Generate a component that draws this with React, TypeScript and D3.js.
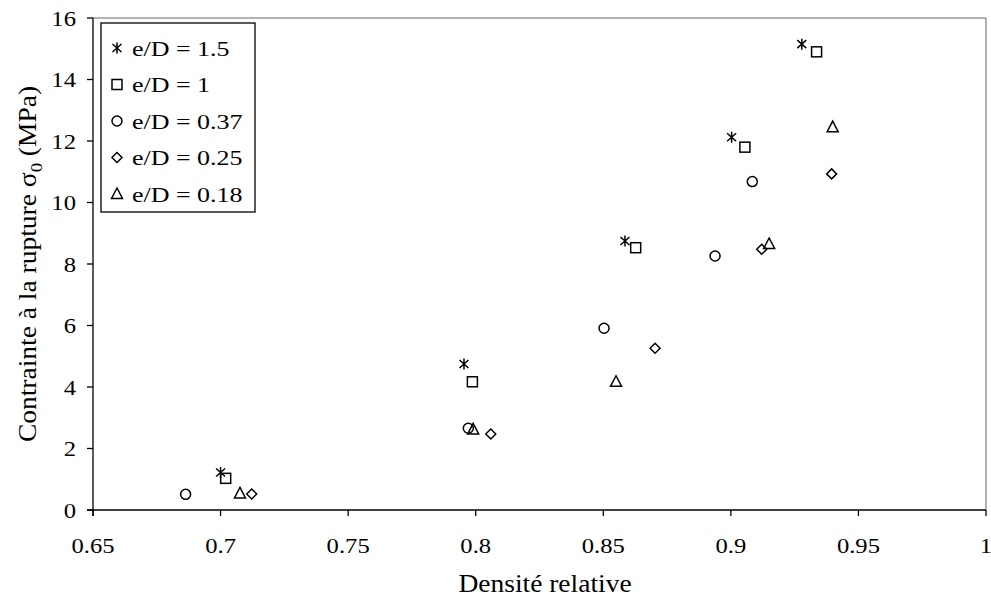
import React from "react";
import * as d3 from "d3";

const seriesNames = ["e/D = 1.5", "e/D = 1", "e/D = 0.37", "e/D = 0.25", "e/D = 0.18"];
const shapes = ["asterisk", "square", "circle", "diamond", "triangle"];

const s15x = [0.700, 0.7954, 0.8585, 0.9003, 0.9278];
const s15y = [1.22, 4.75, 8.75, 12.12, 15.15];
const s1x = [0.702, 0.7987, 0.8627, 0.9055, 0.9336];
const s1y = [1.03, 4.17, 8.53, 11.8, 14.9];
const s037x = [0.6863, 0.7971, 0.8503, 0.8938, 0.9084];
const s037y = [0.51, 2.66, 5.91, 8.26, 10.68];
const s025x = [0.7122, 0.8059, 0.8703, 0.9121, 0.9395];
const s025y = [0.52, 2.47, 5.26, 8.48, 10.93];
const s018x = [0.7076, 0.799, 0.855, 0.915, 0.9399];
const s018y = [0.54, 2.62, 4.17, 8.65, 12.45];

const xTicks = [0.65, 0.7, 0.75, 0.8, 0.85, 0.9, 0.95, 1];
const yTicks = [0, 2, 4, 6, 8, 10, 12, 14, 16];

const allX = [s15x, s1x, s037x, s025x, s018x];
const allY = [s15y, s1y, s037y, s025y, s018y];

const FONT = "Liberation Serif";

function Marker({ shape, x, y }: { shape: string; x: number; y: number }) {
  const st = { fill: "none", stroke: "#000", strokeWidth: 1.5 };
  if (shape === "square") return <rect x={x - 5} y={y - 5} width={10} height={10} {...st} />;
  if (shape === "circle") return <circle cx={x} cy={y} r={5} {...st} />;
  if (shape === "diamond")
    return <path d={`M${x},${y - 5}L${x + 5},${y}L${x},${y + 5}L${x - 5},${y}Z`} {...st} />;
  if (shape === "triangle")
    return <path d={`M${x},${y - 6}L${x + 5.5},${y + 4.5}L${x - 5.5},${y + 4.5}Z`} {...st} />;
  return (
    <path
      d={`M${x},${y - 5.5}L${x},${y + 5.5}M${x - 4.5},${y - 4}L${x + 4.5},${y + 4}M${x - 4.5},${y + 4}L${x + 4.5},${y - 4}`}
      {...st}
    />
  );
}

function SText({ x, y, size, sx = 1, anchor = "start", children }: any) {
  return (
    <g transform={`translate(${x},${y}) scale(${sx},1)`}>
      <text x={0} y={0} fontSize={size} textAnchor={anchor} fill="#000" style={{ fontFamily: FONT }}>
        {children}
      </text>
    </g>
  );
}

export default function App() {
  const W = 991, H = 599;
  const L = 93, R = 986, T = 18, B = 510;
  const x = d3.scaleLinear().domain([0.65, 1]).range([L, R]);
  const y = d3.scaleLinear().domain([0, 16]).range([B, T]);

  return (
    <svg width={W} height={H} style={{ position: "absolute", left: 0, top: 0, background: "#fff" }}>
      <rect x={0} y={0} width={W} height={H} fill="#fff" />
      <line x1={L} x2={R} y1={T} y2={T} stroke="#999" strokeWidth={1.5} />
      <line x1={R} x2={R} y1={T} y2={B} stroke="#999" strokeWidth={1.5} />
      <line x1={L} x2={L} y1={T} y2={B + 6} stroke="#000" strokeWidth={1.3} />
      <line x1={L - 6} x2={R} y1={B} y2={B} stroke="#000" strokeWidth={1.3} />
      {yTicks.map((t) => (
        <g key={"y" + t}>
          <line x1={L - 6} x2={L} y1={y(t)} y2={y(t)} stroke="#000" strokeWidth={1.3} />
          <SText x={76} y={y(t) + 7.5} size={22} sx={1.12} anchor="end">
            {t}
          </SText>
        </g>
      ))}
      {xTicks.map((t) => (
        <g key={"x" + t}>
          <line x1={x(t)} x2={x(t)} y1={B} y2={B + 6} stroke="#000" strokeWidth={1.3} />
          <SText x={x(t)} y={553} size={22} sx={1.12} anchor="middle">
            {d3.format("")(t)}
          </SText>
        </g>
      ))}
      <SText x={545} y={592} size={25} sx={1.1} anchor="middle">
        Densité relative
      </SText>
      <g transform={`translate(36,264) rotate(-90)`}>
        <g transform="scale(1.1,1)">
          <text x={0} y={0} fontSize={25} textAnchor="middle" fill="#000" style={{ fontFamily: FONT }}>
            Contrainte à la rupture σ<tspan fontSize={17} dy={6}>0</tspan>
            <tspan dy={-6}> (MPa)</tspan>
          </text>
        </g>
      </g>
      {allX.map((xs, si) =>
        xs.map((xv, i) => <Marker key={si + "-" + i} shape={shapes[si]} x={x(xv)} y={y(allY[si][i])} />)
      )}
      <rect x={101} y={23} width={154} height={189} fill="#fff" stroke="#000" strokeWidth={1.3} />
      {seriesNames.map((n, i) => {
        const cy = 48 + i * 36.5;
        return (
          <g key={n}>
            <Marker shape={shapes[i]} x={117} y={cy} />
            <SText x={132} y={cy + 7.5} size={22} sx={1.18}>
              {n}
            </SText>
          </g>
        );
      })}
    </svg>
  );
}
